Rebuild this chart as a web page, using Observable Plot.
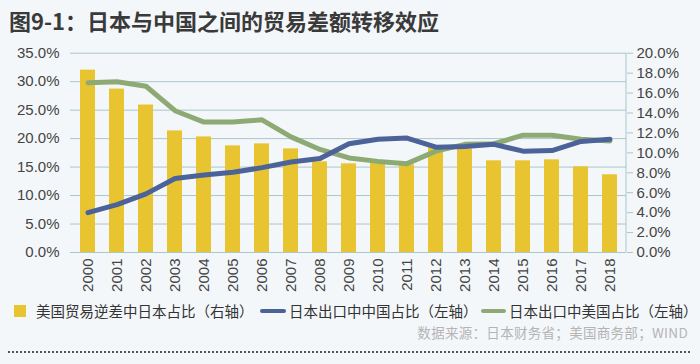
<!DOCTYPE html>
<html>
<head>
<meta charset="utf-8">
<script src="https://cdn.jsdelivr.net/npm/d3@7"></script>
<script src="https://cdn.jsdelivr.net/npm/@observablehq/plot@0.6"></script>
<style>
  html, body { margin: 0; padding: 0; }
  body { width: 700px; height: 364px; background: #f4f7fa; position: relative; overflow: hidden;
         font-family: "Liberation Sans", "Noto Sans CJK SC", sans-serif; color: #333; }
  #title { position: absolute; left: 9px; top: 5px; font-family: "Noto Sans CJK SC", sans-serif;
           font-weight: bold; font-size: 22px; color: #3a3a3a; line-height: 30px; white-space: nowrap; }
  #chart { position: absolute; left: 0; top: 40px; }
  .leg { position: absolute; top: 303px; height: 16px; line-height: 16px; font-size: 14.5px;
         font-family: "Noto Sans CJK SC", sans-serif; color: #333; white-space: nowrap; }
  .sw { position: absolute; }
  #source { position: absolute; right: 12px; top: 325px; height: 14px; font-size: 13.5px; line-height: 14px;
            font-family: "Noto Sans CJK SC", sans-serif; color: #b4b4b4; white-space: nowrap; letter-spacing: 0.3px; }
  #dots { position: absolute; left: 8px; width: 682px; top: 351px; border-top: 2px dotted #555; }
</style>
</head>
<body>
<div id="title">图9-1：日本与中国之间的贸易差额转移效应</div>
<div id="chart"></div>
<div id="legend"></div>
<div id="source">数据来源：日本财务省；美国商务部；WIND</div>
<div id="dots"></div>
<script>
const years = ["2000","2001","2002","2003","2004","2005","2006","2007","2008","2009",
               "2010","2011","2012","2013","2014","2015","2016","2017","2018"];
// 美国贸易逆差中日本占比（右轴, %）
const japanShareOfUSDeficit = [18.3,16.4,14.8,12.2,11.6,10.7,10.9,10.4,9.1,8.9,
                               9.0,8.8,10.5,10.4,9.2,9.2,9.3,8.6,7.8];
// 日本出口中中国占比（左轴, %）
const chinaShareOfJapanExports = [7.0,8.4,10.3,13.0,13.6,14.1,14.9,15.9,16.5,19.1,
                                  19.9,20.1,18.5,18.6,19.0,17.8,17.9,19.5,19.9];
// 日本出口中美国占比（左轴, %）
const usShareOfJapanExports = [29.8,30.0,29.2,24.9,22.9,22.9,23.3,20.3,18.1,16.6,
                               16.0,15.6,17.8,19.0,19.1,20.6,20.6,19.9,19.6];
const leftTicks = [0,5,10,15,20,25,30,35];
const rightTicks = [0,2,4,6,8,10,12,14,16,18,20];
const leftMax = 35, rightMax = 20;
const k = leftMax / rightMax;

const legendItems = [
  {label: "美国贸易逆差中日本占比（右轴）", type: "bar", color: "#e9c431"},
  {label: "日本出口中中国占比（左轴）", type: "line", color: "#4b6399"},
  {label: "日本出口中美国占比（左轴）", type: "line", color: "#8eaa74"}
];

const bars = years.map((y, i) => ({year: y, v: japanShareOfUSDeficit[i] * k}));
const china = years.map((y, i) => ({year: y, v: chinaShareOfJapanExports[i]}));
const us = years.map((y, i) => ({year: y, v: usShareOfJapanExports[i]}));

const W = 700, H = 260, mL = 70, mR = 74, mT = 12.7, mB = 48;
const font = "'Liberation Sans', 'Noto Sans CJK SC', sans-serif";

const chart = Plot.plot({
  width: W, height: H,
  marginLeft: mL, marginRight: mR, marginTop: mT, marginBottom: mB,
  style: {background: "transparent", fontFamily: font, fontSize: "15px", color: "#444"},
  x: {type: "band", domain: years, paddingInner: 0.49, paddingOuter: 0.245, label: null},
  y: {domain: [0, leftMax], label: null},
  marks: [
    Plot.gridY(leftTicks, {stroke: "#a9c6cb", strokeOpacity: 1, strokeWidth: 1}),
    Plot.barY(bars, {x: "year", y: "v", fill: legendItems[0].color}),
    Plot.line(us, {x: "year", y: "v", stroke: legendItems[2].color, strokeWidth: 5, curve: "linear"}),
    Plot.line(china, {x: "year", y: "v", stroke: legendItems[1].color, strokeWidth: 5, curve: "linear"}),
    Plot.axisY(leftTicks, {anchor: "left", tickSize: 0, tickPadding: 11, label: null,
      tickFormat: d => d.toFixed(1) + "%", fontSize: 15, fill: "#444"}),
    Plot.axisY(rightTicks.map(t => t * k), {anchor: "right", tickSize: 6, tickPadding: 4, label: null,
      stroke: "#a9c6cb", tickFormat: d => (d / k).toFixed(1) + "%", fontSize: 15, fill: "#444"}),
    Plot.axisX({anchor: "bottom", tickSize: 0, tickPadding: 6, tickRotate: -90, label: null,
      fontSize: 15, fill: "#444"})
  ]
});

// right axis line
const ys = chart.scale("y");
d3.select(chart).append("line")
  .attr("x1", W - mR).attr("x2", W - mR)
  .attr("y1", ys.apply(0)).attr("y2", ys.apply(leftMax))
  .attr("stroke", "#a9c6cb").attr("stroke-width", 1);

document.getElementById("chart").appendChild(chart);

// legend
const legendPos = [{sw: 14, tx: 36}, {sw: 260, tx: 289}, {sw: 481, tx: 509}];
const leg = document.getElementById("legend");
legendItems.forEach((it, i) => {
  const p = legendPos[i];
  const sw = document.createElement("div");
  sw.className = "sw";
  if (it.type === "bar") {
    Object.assign(sw.style, {left: p.sw + "px", top: "305px", width: "12px", height: "12px", background: it.color});
  } else {
    Object.assign(sw.style, {left: p.sw + "px", top: "309px", width: (p.tx - p.sw - 3) + "px", height: "4px",
      borderRadius: "2px", background: it.color});
  }
  leg.appendChild(sw);
  const t = document.createElement("div");
  t.className = "leg";
  t.style.left = p.tx + "px";
  t.textContent = it.label;
  leg.appendChild(t);
});
</script>
</body>
</html>
